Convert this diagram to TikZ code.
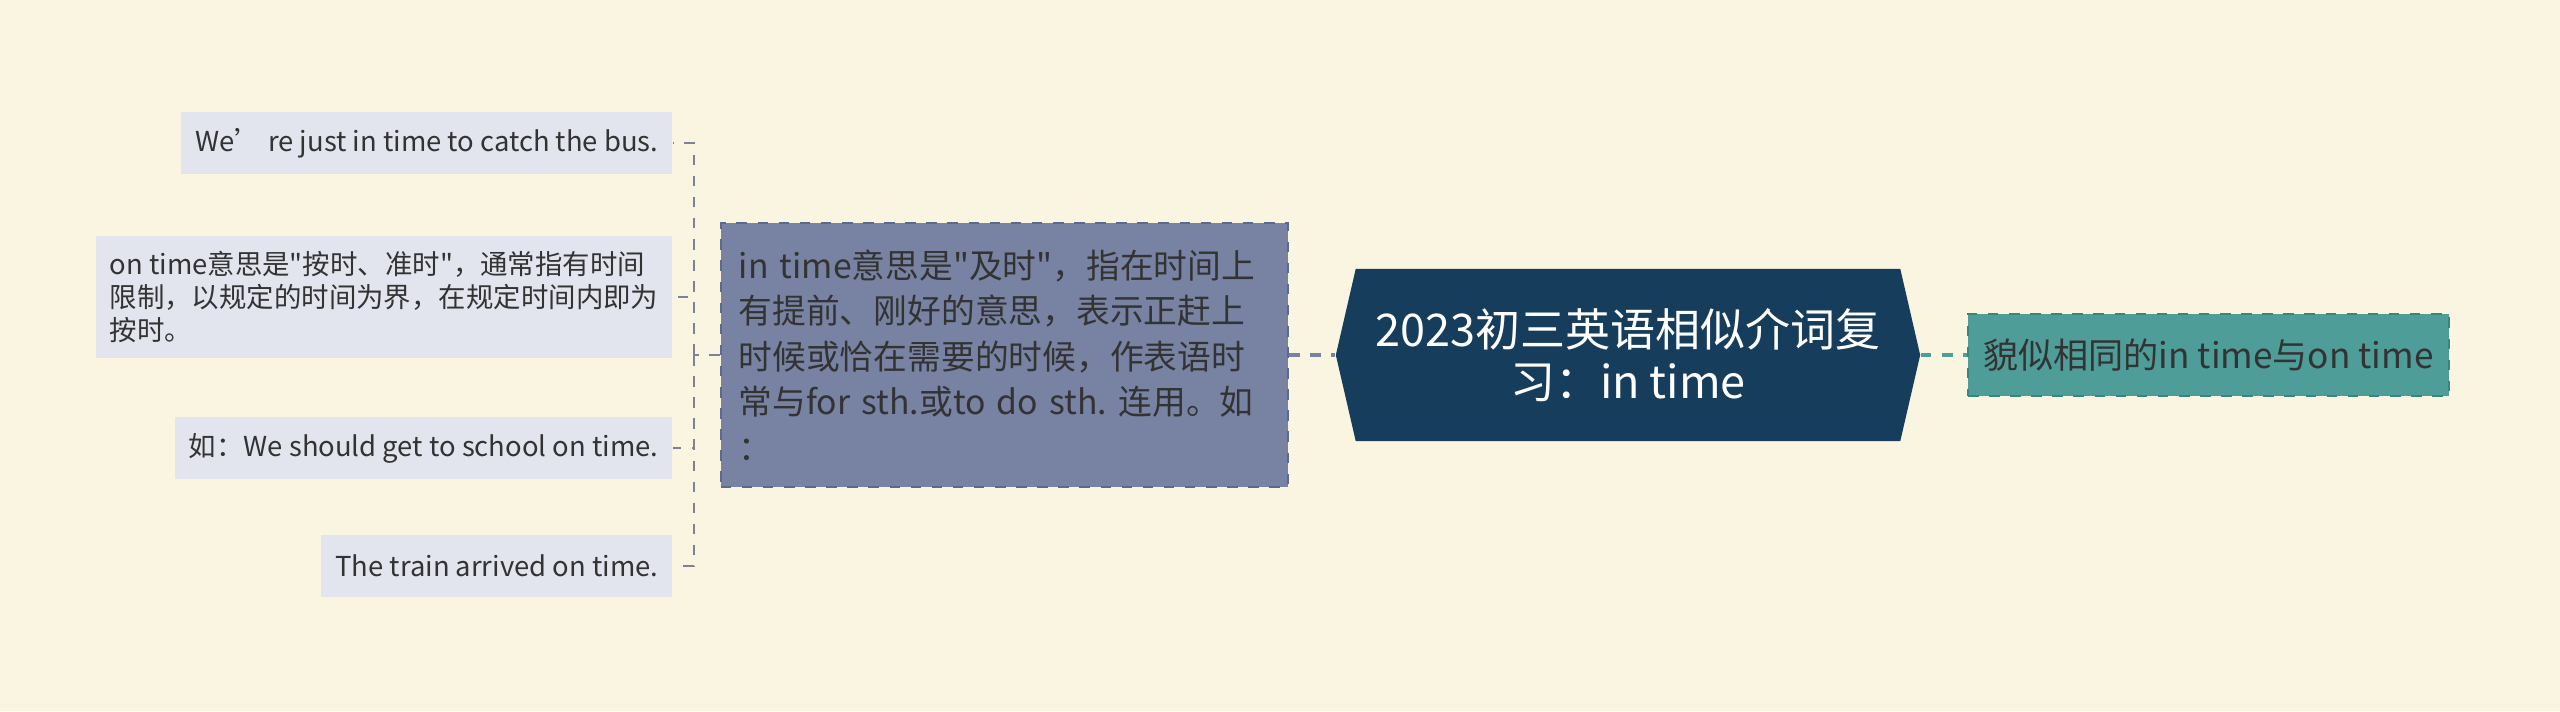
\documentclass[tikz,border=0pt]{standalone}
\usepackage{fontspec}
\setmainfont{Noto Sans CJK SC}[Ligatures=TeXOff]
\usepackage{xcolor}
\usetikzlibrary{positioning, shapes.symbols, calc}

\definecolor{bgcol}{HTML}{FAF5E0}
\definecolor{leaffill}{HTML}{E3E5EE}
\definecolor{leafline}{HTML}{7E8299}
\definecolor{mainfill}{HTML}{7883A3}
\definecolor{mainedge}{HTML}{5D6A8E}
\definecolor{rootfill}{HTML}{173D5C}
\definecolor{tealfill}{HTML}{4E9D99}
\definecolor{tealedge}{HTML}{3B8581}
\definecolor{textdark}{HTML}{333333}

\frenchspacing

\begin{document}
\begin{tikzpicture}[
    x=0.01cm, y=-0.01cm,
    every node/.style={align=left},
    leaf/.style={fill=leaffill, text=textdark, anchor=east, inner xsep=0.14cm, inner ysep=0.15cm,
        minimum height=0.62cm, font=\fontsize{7.8}{9.4}\selectfont},
    mainbox/.style={fill=mainfill, draw=mainedge, dashed, line width=0.6pt, text=textdark,
        text width=5.31cm, inner xsep=0.18cm, minimum height=2.63cm, font=\fontsize{9.6}{12.9}\selectfont},
    rootbox/.style={signal, signal to=west and east, signal pointer angle=154, fill=rootfill,
        text=white, align=center, minimum width=5.84cm, minimum height=1.72cm,
        font=\fontsize{12.8}{15}\selectfont},
    tealbox/.style={fill=tealfill, draw=tealedge, dashed, line width=0.6pt, text=textdark,
        minimum width=4.8cm, minimum height=0.82cm, inner xsep=0.15cm, font=\fontsize{10}{12}\selectfont},
    leafline/.style={draw=leafline, dashed, line width=0.6pt},
    mainline/.style={draw=mainfill, dashed, line width=1.1pt},
    tealline/.style={draw=tealfill, dashed, line width=1.1pt}
]

% 背景
\fill[bgcol] (0,0) rectangle (2560,711);
\useasboundingbox (0,0) rectangle (2560,711);

% 中心主题
\node[rootbox] (root) at (1628,355) {2023初三英语相似介词复\\习：in time};

% 分支
\node[mainbox, left=0.46cm of root] (intime) {in time意思是"及时"，指在时间上\\有提前、刚好的意思，表示正赶上\\时候或恰在需要的时候，作表语时\\常与for sth.或to do sth. 连用。如\\：};
\node[tealbox, right=0.46cm of root] (same) {貌似相同的in time与on time};

% 例句
\node[leaf] (ex1) at (673,143) {We’ re just in time to catch the bus.};
\node[leaf] (ex2) at (673,297) {on time意思是"按时、准时"，通常指有时间\\限制，以规定的时间为界，在规定时间内即为\\按时。};
\node[leaf] (ex3) at (673,448) {如：We should get to school on time.};
\node[leaf] (ex4) at (673,566) {The train arrived on time.};

% 连线
\draw[mainline] (intime.east) -- (root.west);
\draw[tealline] (root.east) -- (same.west);
\coordinate (bus) at ($(intime.west)+(-0.26cm,0)$);
\draw[leafline] (intime.west) -- (bus);
\foreach \ex in {ex1,ex2,ex3,ex4}
    \draw[leafline] (bus) |- (\ex.east);

\end{tikzpicture}
\end{document}
